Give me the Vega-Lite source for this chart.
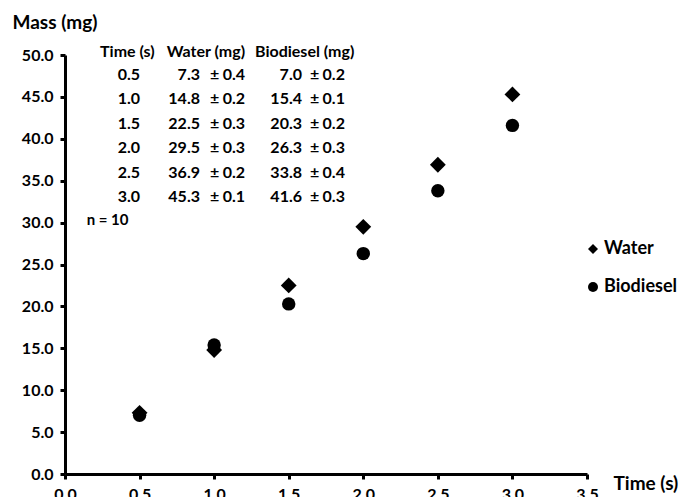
{
  "$schema": "https://vega.github.io/schema/vega-lite/v6.json",
  "width": 522,
  "height": 419,
  "autosize": {"type": "none"},
  "padding": {"left": 65, "top": 55, "right": 99, "bottom": 23},
  "background": "white",
  "config": {
    "view": {"stroke": null},
    "font": "Lato",
    "axis": {
      "grid": false,
      "domainColor": "black",
      "domainWidth": 3,
      "tickColor": "black",
      "tickWidth": 3,
      "tickSize": 5,
      "labelColor": "black",
      "labelFont": "Lato",
      "labelFontSize": 16,
      "labelFontWeight": "bold",
      "labelPadding": 7,
      "labelFlush": false,
      "labelOverlap": false,
      "titleColor": "black",
      "titleFont": "Lato",
      "titleFontSize": 19,
      "titleFontWeight": "bold",
      "titleAngle": 0,
      "titleAlign": "left",
      "titleBaseline": "middle"
    },
    "legend": {
      "labelFont": "Lato",
      "labelFontSize": 18,
      "labelFontWeight": "bold",
      "labelColor": "black"
    }
  },
  "data": {
    "values": [
      {"time": 0.5, "Water": 7.3, "Water_sd": 0.4, "Biodiesel": 7.0, "Biodiesel_sd": 0.2},
      {"time": 1.0, "Water": 14.8, "Water_sd": 0.2, "Biodiesel": 15.4, "Biodiesel_sd": 0.1},
      {"time": 1.5, "Water": 22.5, "Water_sd": 0.3, "Biodiesel": 20.3, "Biodiesel_sd": 0.2},
      {"time": 2.0, "Water": 29.5, "Water_sd": 0.3, "Biodiesel": 26.3, "Biodiesel_sd": 0.3},
      {"time": 2.5, "Water": 36.9, "Water_sd": 0.2, "Biodiesel": 33.8, "Biodiesel_sd": 0.4},
      {"time": 3.0, "Water": 45.3, "Water_sd": 0.1, "Biodiesel": 41.6, "Biodiesel_sd": 0.3}
    ]
  },
  "layer": [
    {
      "transform": [{"fold": ["Water", "Biodiesel"], "as": ["series", "mass"]}],
      "encoding": {
        "x": {
          "field": "time", "type": "quantitative",
          "scale": {"domain": [0, 3.5], "nice": false, "zero": false},
          "axis": {
            "values": [0, 0.5, 1, 1.5, 2, 2.5, 3, 3.5],
            "format": ".1f",
            "title": "Time (s)",
            "titleX": 548,
            "titleY": 9
          }
        },
        "y": {
          "field": "mass", "type": "quantitative",
          "scale": {"domain": [0, 50], "nice": false},
          "axis": {
            "values": [0, 5, 10, 15, 20, 25, 30, 35, 40, 45, 50],
            "format": ".1f",
            "title": "Mass (mg)",
            "titleX": -53,
            "titleY": -33
          }
        },
        "shape": {
          "field": "series", "type": "nominal",
          "scale": {"domain": ["Water", "Biodiesel"], "range": ["diamond", "circle"]},
          "legend": {
            "title": null,
            "orient": "none",
            "legendX": 519,
            "legendY": 185,
            "padding": 0,
            "rowPadding": 20,
            "labelOffset": 2,
            "symbolSize": 100,
            "symbolFillColor": "black",
            "symbolStrokeColor": "black"
          }
        }
      },
      "layer": [
        {
          "transform": [{"filter": {"field": "series", "equal": "Water"}}],
          "mark": {"type": "point", "filled": true, "opacity": 1, "color": "black", "size": 250}
        },
        {
          "transform": [{"filter": {"field": "series", "equal": "Biodiesel"}}],
          "mark": {"type": "point", "filled": true, "opacity": 1, "color": "black", "size": 180}
        }
      ]
    },
    {
      "layer": [
        {
          "mark": {"type": "text", "align": "right", "baseline": "middle", "fontSize": 16, "fontWeight": "bold", "color": "black"},
          "encoding": {
            "x": {"datum": 0.503, "type": "quantitative"},
            "y": {"field": "time", "type": "quantitative", "scale": {"domain": [0.09, 8.676], "reverse": true, "nice": false, "zero": false}, "axis": null},
            "text": {"field": "time", "type": "quantitative", "format": ".1f"}
          }
        },
        {
          "mark": {"type": "text", "align": "right", "baseline": "middle", "fontSize": 16, "fontWeight": "bold", "color": "black"},
          "encoding": {
            "x": {"datum": 0.905, "type": "quantitative"},
            "y": {"field": "time", "type": "quantitative", "scale": {"domain": [0.09, 8.676], "reverse": true, "nice": false, "zero": false}, "axis": null},
            "text": {"field": "Water", "type": "quantitative", "format": ".1f"}
          }
        },
        {
          "mark": {"type": "text", "align": "left", "baseline": "middle", "fontSize": 16, "fontWeight": "bold", "color": "black"},
          "encoding": {
            "x": {"datum": 0.972, "type": "quantitative"},
            "y": {"field": "time", "type": "quantitative", "scale": {"domain": [0.09, 8.676], "reverse": true, "nice": false, "zero": false}, "axis": null},
            "text": {"value": "±"}
          }
        },
        {
          "mark": {"type": "text", "align": "right", "baseline": "middle", "fontSize": 16, "fontWeight": "bold", "color": "black"},
          "encoding": {
            "x": {"datum": 1.207, "type": "quantitative"},
            "y": {"field": "time", "type": "quantitative", "scale": {"domain": [0.09, 8.676], "reverse": true, "nice": false, "zero": false}, "axis": null},
            "text": {"field": "Water_sd", "type": "quantitative", "format": ".1f"}
          }
        },
        {
          "mark": {"type": "text", "align": "right", "baseline": "middle", "fontSize": 16, "fontWeight": "bold", "color": "black"},
          "encoding": {
            "x": {"datum": 1.589, "type": "quantitative"},
            "y": {"field": "time", "type": "quantitative", "scale": {"domain": [0.09, 8.676], "reverse": true, "nice": false, "zero": false}, "axis": null},
            "text": {"field": "Biodiesel", "type": "quantitative", "format": ".1f"}
          }
        },
        {
          "mark": {"type": "text", "align": "left", "baseline": "middle", "fontSize": 16, "fontWeight": "bold", "color": "black"},
          "encoding": {
            "x": {"datum": 1.643, "type": "quantitative"},
            "y": {"field": "time", "type": "quantitative", "scale": {"domain": [0.09, 8.676], "reverse": true, "nice": false, "zero": false}, "axis": null},
            "text": {"value": "±"}
          }
        },
        {
          "mark": {"type": "text", "align": "right", "baseline": "middle", "fontSize": 16, "fontWeight": "bold", "color": "black"},
          "encoding": {
            "x": {"datum": 1.877, "type": "quantitative"},
            "y": {"field": "time", "type": "quantitative", "scale": {"domain": [0.09, 8.676], "reverse": true, "nice": false, "zero": false}, "axis": null},
            "text": {"field": "Biodiesel_sd", "type": "quantitative", "format": ".1f"}
          }
        },
        {
          "data": {"values": [{}]},
          "mark": {"type": "text", "align": "left", "baseline": "middle", "fontSize": 16, "fontWeight": "bold", "color": "black"},
          "encoding": {
            "x": {"datum": 0.235, "type": "quantitative"},
            "y": {"datum": 0.029, "type": "quantitative", "scale": {"domain": [0.09, 8.676], "reverse": true, "nice": false, "zero": false}, "axis": null},
            "text": {"value": "Time (s)"}
          }
        },
        {
          "data": {"values": [{}]},
          "mark": {"type": "text", "align": "left", "baseline": "middle", "fontSize": 16, "fontWeight": "bold", "color": "black"},
          "encoding": {
            "x": {"datum": 0.682, "type": "quantitative"},
            "y": {"datum": 0.029, "type": "quantitative", "scale": {"domain": [0.09, 8.676], "reverse": true, "nice": false, "zero": false}, "axis": null},
            "text": {"value": "Water (mg)"}
          }
        },
        {
          "data": {"values": [{}]},
          "mark": {"type": "text", "align": "left", "baseline": "middle", "fontSize": 16, "fontWeight": "bold", "color": "black"},
          "encoding": {
            "x": {"datum": 1.274, "type": "quantitative"},
            "y": {"datum": 0.029, "type": "quantitative", "scale": {"domain": [0.09, 8.676], "reverse": true, "nice": false, "zero": false}, "axis": null},
            "text": {"value": "Biodiesel (mg)"}
          }
        },
        {
          "data": {"values": [{}]},
          "mark": {"type": "text", "align": "left", "baseline": "middle", "fontSize": 15, "fontWeight": "bold", "color": "black"},
          "encoding": {
            "x": {"datum": 0.145, "type": "quantitative"},
            "y": {"datum": 3.471, "type": "quantitative", "scale": {"domain": [0.09, 8.676], "reverse": true, "nice": false, "zero": false}, "axis": null},
            "text": {"value": "n = 10"}
          }
        }
      ]
    }
  ],
  "resolve": {"scale": {"y": "independent"}}
}
